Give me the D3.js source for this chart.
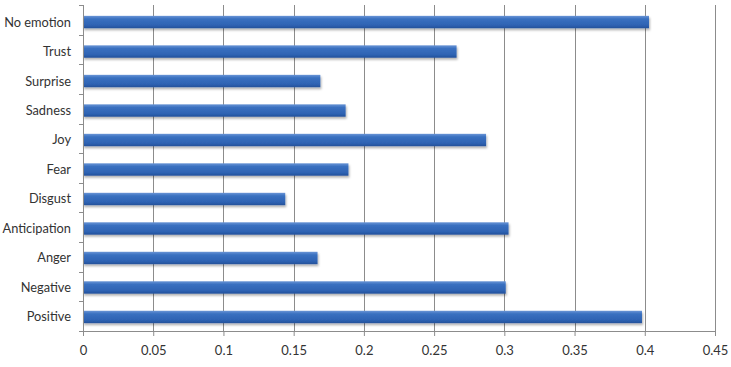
<!DOCTYPE html>
<html><head><meta charset="utf-8">
<script src="https://cdn.jsdelivr.net/npm/d3@7"></script>
<style>body{margin:0;background:#fff}svg{display:block}text{font-family:Lato,"Open Sans",sans-serif;fill:#333}</style>
</head><body>
<script>
const categories = ["No emotion","Trust","Surprise","Sadness","Joy","Fear","Disgust","Anticipation","Anger","Negative","Positive"];
const values = [0.403,0.266,0.169,0.187,0.287,0.189,0.144,0.303,0.167,0.301,0.398];
const xTicks = [0,0.05,0.1,0.15,0.2,0.25,0.3,0.35,0.4,0.45];

const W=731,H=367, m={left:83,right:16,top:5,bottom:36};
const svg=d3.select("body").append("svg").attr("width",W).attr("height",H);
const defs=svg.append("defs");
const g1=defs.append("linearGradient").attr("id","bg").attr("x1",0).attr("x2",0).attr("y1",0).attr("y2",1);
g1.append("stop").attr("offset","0").attr("stop-color","#6a95d6");
g1.append("stop").attr("offset","0.25").attr("stop-color","#3a70c0");
g1.append("stop").attr("offset","0.75").attr("stop-color","#2e63b3");
g1.append("stop").attr("offset","1").attr("stop-color","#23509a");
const f=defs.append("filter").attr("id","sh").attr("x","-5%").attr("y","-30%").attr("width","110%").attr("height","180%");
f.append("feDropShadow").attr("dx",1).attr("dy",2).attr("stdDeviation",1.2).attr("flood-color","#000").attr("flood-opacity",0.3);

const x=d3.scaleLinear().domain([0,0.45]).range([m.left,W-m.right]);
const y=d3.scaleBand().domain(categories).range([m.top+2,H-m.bottom+1]).paddingInner(0.58).paddingOuter(0.3);
const yb=d3.scaleBand().domain(categories).range([m.top,H-m.bottom]);

// gridlines
svg.append("g").selectAll("line").data(xTicks.slice(1)).join("line")
 .attr("x1",d=>Math.round(x(d))+0.5).attr("x2",d=>Math.round(x(d))+0.5)
 .attr("y1",m.top).attr("y2",H-m.bottom).attr("stroke","#8c8c8c").attr("stroke-width",1);

// bars
svg.append("g").selectAll("rect").data(categories).join("rect")
 .attr("x",x(0)).attr("y",d=>y(d)).attr("height",y.bandwidth())
 .attr("width",(d,i)=>x(values[i])-x(0)).attr("fill","url(#bg)").attr("filter","url(#sh)");

// x axis
const xa=svg.append("g").attr("transform",`translate(0,${H-m.bottom})`)
 .call(d3.axisBottom(x).tickValues(xTicks).tickFormat(d=>String(d)).tickSize(5).tickPadding(10));
xa.select(".domain").attr("stroke","#8c8c8c").attr("d",`M${m.left},0.5H${W-m.right}`);
xa.selectAll(".tick line").attr("stroke","#8c8c8c");
xa.selectAll("text").attr("font-size",13).style("fill","#333");

// y axis
const ya=svg.append("g").attr("transform",`translate(${m.left},0)`);
ya.append("line").attr("x1",0.5).attr("x2",0.5).attr("y1",m.top).attr("y2",H-m.bottom).attr("stroke","#8c8c8c");
const bounds=categories.map(c=>yb(c)).concat([H-m.bottom]);
ya.selectAll("line.t").data(bounds).join("line").attr("class","t")
 .attr("x1",-4).attr("x2",0).attr("y1",d=>Math.round(d)+0.5).attr("y2",d=>Math.round(d)+0.5).attr("stroke","#8c8c8c");
ya.selectAll("text").data(categories).join("text")
 .attr("x",-12).attr("y",d=>y(d)+y.bandwidth()/2).attr("dy","0.35em")
 .attr("text-anchor","end").attr("font-size",12.8).text(d=>d);
</script>
</body></html>
